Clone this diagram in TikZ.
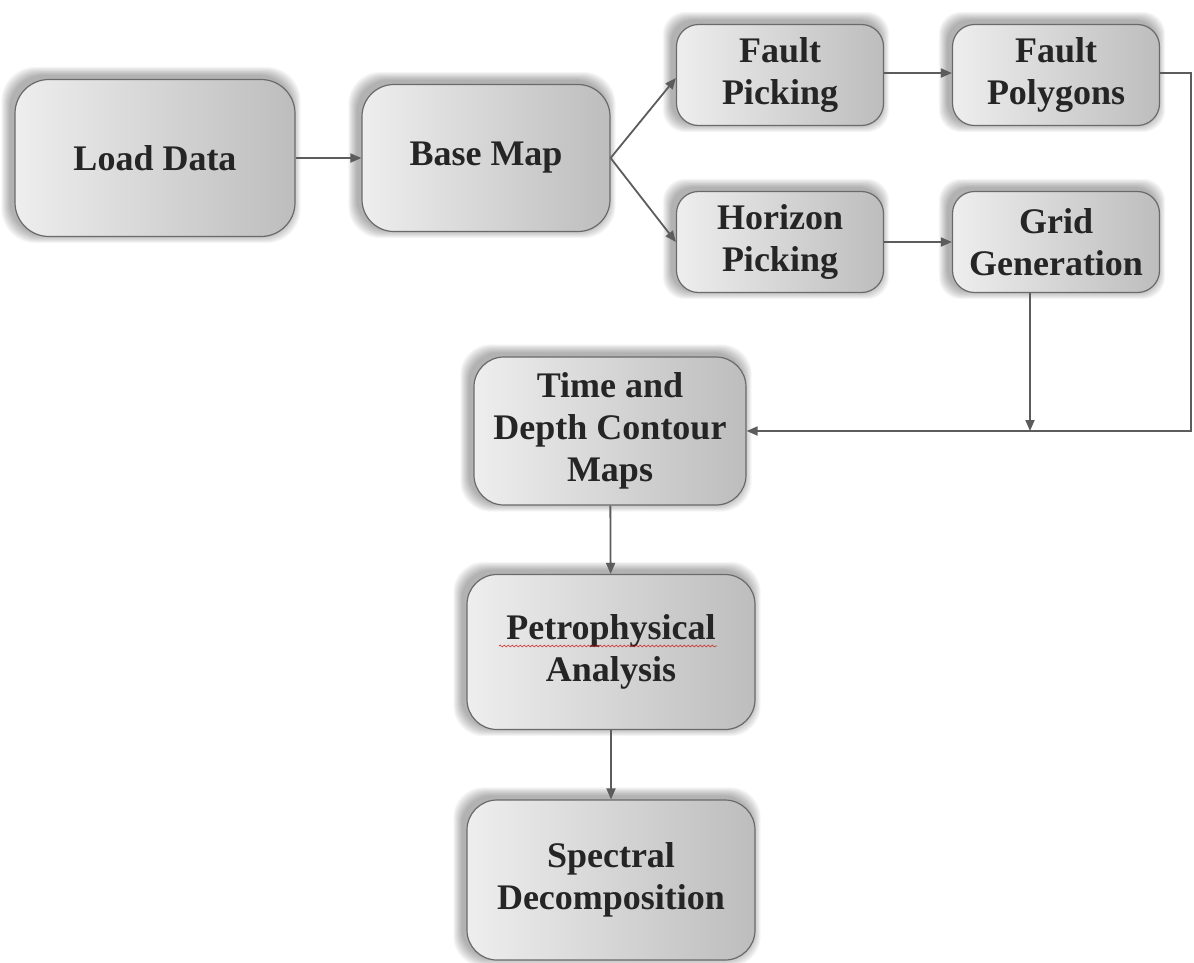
\documentclass[tikz,border=0pt]{standalone}
\usepackage{fontspec}
\setmainfont{Liberation Serif}
\usetikzlibrary{arrows.meta,decorations.pathmorphing,backgrounds}

\definecolor{boxL}{HTML}{EEEEEE}
\definecolor{boxR}{HTML}{BDBDBD}
\definecolor{edgegray}{HTML}{6A6A6A}
\definecolor{linkgray}{HTML}{5C5C5C}
\definecolor{ink}{HTML}{252525}

\tikzset{
  procbox/.style={rectangle, rounded corners=#1, draw=edgegray, line width=1.2pt,
    left color=boxL, right color=boxR, align=center, text=ink,
    font=\fontsize{36}{42}\selectfont\bfseries, inner sep=0pt},
  link/.style={draw=linkgray, line width=1.8pt, -{Triangle[length=11pt,width=9pt]}},
  plainlink/.style={draw=linkgray, line width=1.8pt},
}

% soft shadow behind a node, slightly offset up and to the left
\newcommand\softshadow[2]{%
  \foreach \k in {1,...,10}{%
    \fill[black, opacity=0.035, rounded corners=#2]
      ([shift={(-4-\k*0.9,-3-\k*0.9)}]#1.north west) rectangle
      ([shift={(-4+\k*0.9,-3+\k*0.9)}]#1.south east);
  }%
}

\begin{document}
\begin{tikzpicture}[x=1pt,y=-1pt]
  \useasboundingbox (0,0) rectangle (1194,962);

  % process boxes
  \node[procbox=34pt, minimum width=280pt, minimum height=157pt] (load) at (155,158) {Load Data};
  \node[procbox=32pt, minimum width=248pt, minimum height=147pt] (base) at (486,158) {Base Map};
  \node[procbox=22pt, minimum width=207pt, minimum height=101pt] (fpick) at (780,75) {Fault\\Picking};
  \node[procbox=22pt, minimum width=207pt, minimum height=101pt] (fpoly) at (1056,75) {Fault\\Polygons};
  \node[procbox=22pt, minimum width=207pt, minimum height=101pt] (hpick) at (780,242) {Horizon\\Picking};
  \node[procbox=22pt, minimum width=207pt, minimum height=101pt] (grid) at (1056,242) {Grid\\Generation};
  \node[procbox=30pt, minimum width=272pt, minimum height=148pt] (time) at (610,431) {Time and\\Depth Contour\\Maps};
  \node[procbox=30pt, minimum width=288pt, minimum height=155pt] (petro) at (611,652) {Petrophysical\\Analysis};
  \node[procbox=30pt, minimum width=288pt, minimum height=160pt] (spec) at (611,880) {Spectral\\Decomposition};

  % spell-check underline under the first word
  \draw[red!80!black, line width=0.7pt, opacity=0.7,
        decorate, decoration={snake, amplitude=0.9pt, segment length=4pt}]
    (499,646) -- (717,646);

  % shadows
  \begin{scope}[on background layer]
    \softshadow{load}{34pt}
    \softshadow{base}{32pt}
    \softshadow{fpick}{22pt}
    \softshadow{fpoly}{22pt}
    \softshadow{hpick}{22pt}
    \softshadow{grid}{22pt}
    \softshadow{time}{30pt}
    \softshadow{petro}{30pt}
    \softshadow{spec}{30pt}
  \end{scope}

  % connectors
  \coordinate (rx) at (1191,0);
  \draw[link] (load) -- (base);
  \draw[link] (base.east) -- ([yshift=-3pt]fpick.west);
  \draw[link] (base.east) -- (hpick.west);
  \draw[link] ([yshift=2pt]fpick.east) -- ([yshift=2pt]fpoly.east -| fpoly.west);
  \draw[link] (hpick) -- (grid);
  \draw[link] ([yshift=2pt]fpoly.east) -- ([yshift=2pt]fpoly.east -| rx) -- (rx |- time.east) -- (time.east);
  \draw[link] ([xshift=-26pt]grid.south) -- ([xshift=-26pt]grid.south |- time.east);
  \draw[link] (time) -- (petro);
  \draw[link] (petro) -- (spec);
\end{tikzpicture}
\end{document}
